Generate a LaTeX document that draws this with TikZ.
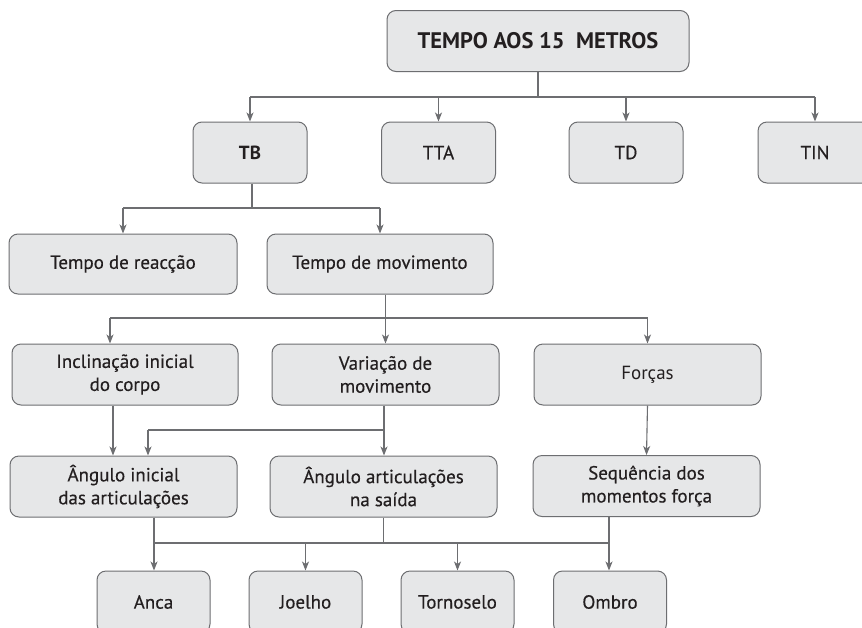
\documentclass[tikz,border=0pt]{standalone}
\usepackage{fontspec}
\setmainfont{PT Sans}
\newfontfamily\medfont{PT Sans}[FakeBold=0.35]
\usetikzlibrary{arrows.meta,calc}
\definecolor{boxfill}{HTML}{E6E7E8}
\definecolor{boxline}{HTML}{6D6E71}
\definecolor{txt}{HTML}{231F20}
\tikzset{
  box/.style={draw=boxline, fill=boxfill, line width=1pt, rounded corners=9pt,
    align=center, text=txt, inner sep=2pt, minimum height=61pt,
    font=\medfont\fontsize{19}{23}\selectfont},
  conn/.style={draw=boxline, line width=1.1pt},
  arr/.style={conn, -{Stealth[length=9pt,width=7pt,inset=2.5pt]}},
}
\begin{document}
\begin{tikzpicture}[x=1pt,y=-1pt]
\clip (0,0) rectangle (862,627);
\fill[white] (0,0) rectangle (862,627);
% nodes
\node[box, minimum width=302pt, font=\fontsize{22.5}{24}\selectfont\bfseries] (top) at (538,41) {TEMPO AOS 15\ \ METROS};
\node[box, minimum width=114pt, font=\fontsize{19}{23}\selectfont\bfseries] (tb) at (250,152.5) {TB};
\node[box, minimum width=114pt] (tta) at (438.5,152.5) {TTA};
\node[box, minimum width=114pt] (td) at (626,152.5) {TD};
\node[box, minimum width=114pt] (tin) at (815,152.5) {TIN};
\node[box, minimum width=228pt, minimum height=60pt] (tdr) at (123,264) {Tempo de reacção};
\node[box, minimum width=226pt, minimum height=60pt] (tdm) at (380,264) {Tempo de movimento};
\node[box, minimum width=226pt] (incl) at (125,374.5) {Inclinação inicial\\do corpo};
\node[box, minimum width=227pt] (var) at (385.5,374.5) {Variação de\\movimento};
\node[box, minimum width=227pt, font=\fontsize{19}{23}\selectfont] (forcas) at (647.5,374.5) {Forças};
\node[box, minimum width=227pt] (ai) at (123.5,486.5) {Ângulo inicial\\das articulações};
\node[box, minimum width=227pt] (aa) at (383.5,486.5) {Ângulo articulações\\na saída};
\node[box, minimum width=227pt] (seq) at (646.5,486) {Sequência dos\\momentos força};
\node[box, minimum width=113pt, minimum height=62pt] (anca) at (153.5,602) {Anca};
\node[box, minimum width=113pt, minimum height=62pt] (joelho) at (305.5,602) {Joelho};
\node[box, minimum width=113pt, minimum height=62pt] (torn) at (457.5,602) {Tornoselo};
\node[box, minimum width=113pt, minimum height=62pt] (ombro) at (610,602) {Ombro};
% junction coordinates
\coordinate (j1) at (538,97);
\coordinate (j2) at (252,208);
\coordinate (j3) at (385.5,318);
\coordinate (j3l) at (110,318);
\coordinate (ca) at (113,430);
\coordinate (cb) at (384,430);
\coordinate (cc) at (148,430);
\coordinate (cd) at (154,543);
\coordinate (ce) at (609,543);
% level 1
\draw[conn] (top.south) -- (j1);
\draw[conn] (tb.north |- j1) -- (tin.north |- j1);
\draw[arr] (tb.north |- j1) -- (tb.north);
\draw[arr] (tta.north |- j1) -- (tta.north);
\draw[arr] (td.north |- j1) -- (td.north);
\draw[arr] (tin.north |- j1) -- (tin.north);
% level 2
\draw[conn] (tb.south -| j2) -- (j2);
\draw[conn] (tdr.north |- j2) -- (tdm.north |- j2);
\draw[arr] (tdr.north |- j2) -- (tdr.north);
\draw[arr] (tdm.north |- j2) -- (tdm.north);
% level 3
\draw[conn] (j3l) -- (forcas.north |- j3);
\draw[arr] (tdm.south -| j3) -- (var.north);
\draw[arr] (j3l) -- (incl.north -| j3l);
\draw[arr] (forcas.north |- j3) -- (forcas.north);
% level 4
\draw[arr] (incl.south -| ca) -- (ai.north -| ca);
\draw[arr] (var.south -| cb) -- (aa.north -| cb);
\draw[conn] (cb) -- (cc);
\draw[arr] (cc) -- (ai.north -| cc);
\draw[arr] (forcas.south) -- (seq.north);
% level 5
\draw[conn] (ai.south -| cd) -- (cd) -- (ce);
\draw[conn] (aa.south) -- (aa.south |- cd);
\draw[arr] (seq.south -| ce) -- (ombro.north -| ce);
\draw[arr] (cd) -- (anca.north -| cd);
\draw[arr] (joelho.north |- cd) -- (joelho.north);
\draw[arr] (torn.north |- cd) -- (torn.north);
\end{tikzpicture}
\end{document}
